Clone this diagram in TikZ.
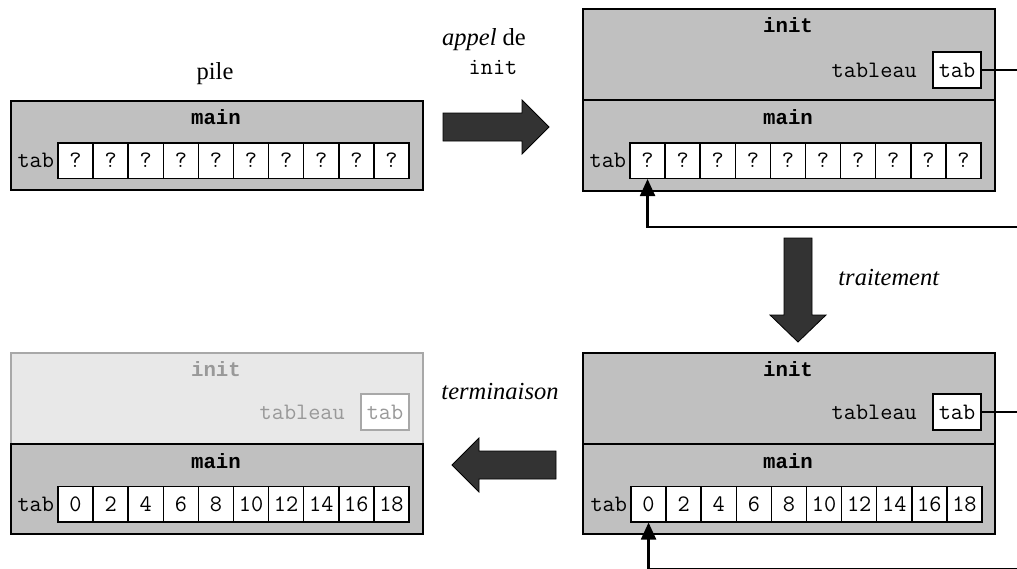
\documentclass[tikz,border=0pt]{standalone}
\usepackage{fontspec}
\setmainfont{Liberation Serif}
\newfontfamily\boldmono{Liberation Mono}
\usetikzlibrary{arrows.meta}
\definecolor{stackgray}{HTML}{C0C0C0}
\definecolor{fadedfill}{HTML}{E8E8E8}
\definecolor{fadedline}{HTML}{A8A8A8}
\definecolor{fadedtext}{HTML}{999999}
\definecolor{arrowfill}{HTML}{333333}
\tikzset{
  frame/.style={draw, line width=1.5pt, fill=stackgray, inner sep=0, anchor=north west, minimum width=412pt},
  fadedframe/.style={frame, draw=fadedline, fill=fadedfill},
  cell/.style={draw, line width=1.5pt, fill=white, inner sep=0, minimum width=35.1pt, minimum height=35.5pt, font=\fontsize{23.6}{26}\selectfont\ttfamily},
  tabbox/.style={cell, minimum width=48.3pt, minimum height=36pt},
  mono/.style={font=\fontsize{23.6}{26}\selectfont\ttfamily, inner sep=0},
  monob/.style={font=\fontsize{20.7}{24}\selectfont\boldmono\bfseries, inner sep=0},
  serif/.style={font=\fontsize{24.5}{28}\selectfont, inner sep=0, anchor=base},
  link/.style={line width=2.2pt},
  ptr/.style={link, -{Triangle[length=17pt,width=15pt]}},
  bigarrow/.style={fill=arrowfill, draw=black, line width=0.8pt, line join=miter}
}
\begin{document}
\begin{tikzpicture}[x=1pt,y=-1pt]
\useasboundingbox (0,0) rectangle (1017,568);

% ---------- top-left: pile ----------
\node[serif] (pile) at (215,79) {pile};
\node[frame, minimum height=89pt] (mainA) at (10,100) {};
\node[monob] (mainAl) at (216,117) {main};
\foreach \v [count=\i from 0] in {?,?,?,?,?,?,?,?,?,?}
  \node[cell] (A\i) at ({58+17.55+35.1*\i},160.5) {\v};
\node[mono, anchor=east, xshift=-3pt] (Atab) at (A0.west) {tab};

% ---------- arrow: appel de init ----------
\node[serif] (appel) at (484,45) {\textit{appel} de};
\node[mono] (appelinit) at (493,67) {init};
\draw[bigarrow] (443,113) -- (522,113) -- (522,100) -- (549,127) -- (522,154) -- (522,141) -- (443,141) -- cycle;

% ---------- top-right ----------
\node[frame, minimum height=91pt] (initB) at (582,8) {};
\node[frame, minimum height=91pt] (mainB) at (582,99) {};
\node[monob] (initBl) at (788,25) {init};
\node[tabbox] (Btabbox) at (957,70) {tab};
\node[mono, anchor=east] (Btableau) at (917,70) {tableau};
\node[monob] (mainBl) at (788,117) {main};
\foreach \v [count=\i from 0] in {?,?,?,?,?,?,?,?,?,?}
  \node[cell] (B\i) at ({630+17.55+35.1*\i},160.5) {\v};
\node[mono, anchor=east, xshift=-3pt] (Btab) at (B0.west) {tab};
\coordinate (outB) at (1020,70);
\coordinate (retB) at (1020,227);
\draw[link] (Btabbox.east) -- (outB);
\draw[ptr] (retB) -| (B0.south);

% ---------- arrow: traitement ----------
\draw[bigarrow] (784,238) -- (812,238) -- (812,315) -- (826,315) -- (798,342) -- (770,315) -- (784,315) -- cycle;
\node[serif] (trait) at (889,285) {\textit{traitement}};

% ---------- bottom-right ----------
\node[frame, minimum height=91pt] (initD) at (582,352) {};
\node[frame, minimum height=90pt] (mainD) at (582,443) {};
\node[monob] (initDl) at (788,369) {init};
\node[tabbox] (Dtabbox) at (957,412) {tab};
\node[mono, anchor=east] (Dtableau) at (917,412) {tableau};
\node[monob] (mainDl) at (788,461) {main};
\foreach \v [count=\i from 0] in {0,2,4,6,8,10,12,14,16,18}
  \node[cell] (D\i) at ({631+17.55+35.1*\i},504) {\v};
\node[mono, anchor=east, xshift=-3pt] (Dtab) at (D0.west) {tab};
\coordinate (outD) at (1020,412);
\coordinate (retD) at (1020,569.5);
\draw[link] (Dtabbox.east) -- (outD);
\draw[ptr] (retD) -| (D0.south);

% ---------- arrow: terminaison ----------
\node[serif] (term) at (500,399) {\textit{terminaison}};
\draw[bigarrow] (556,451) -- (479,451) -- (479,438) -- (452,465) -- (479,492) -- (479,479) -- (556,479) -- cycle;

% ---------- bottom-left ----------
\node[fadedframe, minimum height=91pt] (initC) at (10,352) {};
\node[frame, minimum height=90pt] (mainC) at (10,443) {};
\node[monob, text=fadedtext] (initCl) at (216,369) {init};
\node[tabbox, draw=fadedline, text=fadedtext] (Ctabbox) at (385,412) {tab};
\node[mono, anchor=east, text=fadedtext] (Ctableau) at (345,412) {tableau};
\node[monob] (mainCl) at (216,461) {main};
\foreach \v [count=\i from 0] in {0,2,4,6,8,10,12,14,16,18}
  \node[cell] (C\i) at ({58+17.55+35.1*\i},504) {\v};
\node[mono, anchor=east, xshift=-3pt] (Ctab) at (C0.west) {tab};
\end{tikzpicture}
\end{document}
